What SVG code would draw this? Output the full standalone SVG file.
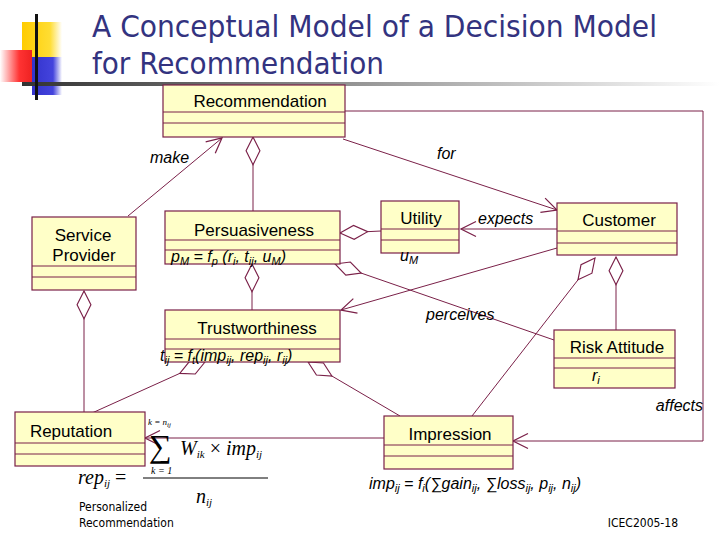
<svg xmlns="http://www.w3.org/2000/svg" width="720" height="540" viewBox="0 0 720 540">
<defs>
<linearGradient id="hl" x1="0" x2="1" y1="0" y2="0"><stop offset="0" stop-color="#333"/><stop offset="0.5" stop-color="#999"/><stop offset="1" stop-color="#fff"/></linearGradient>
<linearGradient id="rd" x1="0" x2="1"><stop offset="0" stop-color="#fff"/><stop offset="0.6" stop-color="#f33"/><stop offset="1" stop-color="#e22"/></linearGradient>
<linearGradient id="bl" x1="0" x2="1"><stop offset="0" stop-color="#33c"/><stop offset="0.7" stop-color="#44d"/><stop offset="1" stop-color="#fff"/></linearGradient>
<linearGradient id="yl" x1="0" x2="1"><stop offset="0" stop-color="#fc0"/><stop offset="0.7" stop-color="#fd3"/><stop offset="1" stop-color="#fff"/></linearGradient>
<marker id="arr" markerUnits="userSpaceOnUse" markerWidth="20" markerHeight="20" refX="0" refY="0" viewBox="-12 -8 14 16" orient="auto" overflow="visible"><path d="M-12,-6 L0,0 L-12,6" fill="none" stroke="#7a2048" stroke-width="1"/></marker>
<marker id="dia" markerUnits="userSpaceOnUse" markerWidth="30" markerHeight="20" refX="0" refY="0" viewBox="0 -8 26 16" orient="auto" overflow="visible"><path d="M0,0 L12,-6 L24,0 L12,6 Z" fill="#fff" stroke="#7a2048" stroke-width="1"/></marker>
<style>
.box{fill:#ffffc8;stroke:#7a2048;stroke-width:1.2}
.cn{fill:none;stroke:#7a2048;stroke-width:1}
.nm{font-family:"Liberation Sans",Arial,sans-serif;font-size:17px;fill:#000;text-anchor:middle}
.it{font-family:"Liberation Sans",Arial,sans-serif;font-size:16px;font-style:italic;fill:#000}
.tm{font-family:"Liberation Serif","Times New Roman",serif;font-style:italic;fill:#000}
.sm{font-family:"DejaVu Sans Condensed","DejaVu Sans",sans-serif;font-size:12px;fill:#000}
.ttl{font-family:"DejaVu Sans Condensed","DejaVu Sans",sans-serif;font-size:30px;fill:#333380}
</style>
</defs>
<rect width="720" height="540" fill="#fff"/>
<g id="decor">
<rect x="22" y="22" width="40" height="38" fill="url(#yl)"/>
<rect x="32" y="57" width="30" height="38" fill="url(#bl)"/>
<rect x="0" y="50" width="32" height="32" fill="url(#rd)"/>
<rect x="22" y="82" width="698" height="4" fill="url(#hl)"/>
<rect x="35" y="14" width="3" height="86" fill="#111"/>
</g>
<g id="title">
<text class="ttl" x="92" y="37" textLength="565" lengthAdjust="spacingAndGlyphs">A Conceptual Model of a Decision Model</text>
<text class="ttl" x="92" y="74" textLength="292" lengthAdjust="spacingAndGlyphs">for Recommendation</text>
</g>
<g id="connectors">
<path class="cn" d="M128,216 L222,138" marker-end="url(#arr)"/>
<path class="cn" d="M253,137 L253,211" marker-start="url(#dia)"/>
<path class="cn" d="M343,139 L557,210" marker-end="url(#arr)"/>
<path class="cn" d="M345,111 L703,111 L703,441 L513,441" marker-end="url(#arr)"/>
<path class="cn" d="M252,264 L252,310" marker-start="url(#dia)"/>
<path class="cn" d="M84,291 L84,412" marker-start="url(#dia)"/>
<path class="cn" d="M340,233 L381,231" marker-start="url(#dia)"/>
<path class="cn" d="M335,264 L554,340" marker-start="url(#dia)"/>
<path class="cn" d="M557,248 L341,310" marker-end="url(#arr)"/>
<path class="cn" d="M557,229 L461,229" marker-end="url(#arr)"/>
<path class="cn" d="M616,257 L616,330" marker-start="url(#dia)"/>
<path class="cn" d="M595,258 L472,416" marker-start="url(#dia)"/>
<path class="cn" d="M205,362 L92,413" marker-start="url(#dia)"/>
<path class="cn" d="M308,362 L400,416" marker-start="url(#dia)"/>
<path class="cn" d="M384,438 L145,438" marker-end="url(#arr)"/>
<text class="it" x="150" y="163">make</text>
<text class="it" x="437" y="159">for</text>
<text class="it" x="478" y="224">expects</text>
<text class="it" x="426" y="320">perceives</text>
<text class="it" x="703" y="411" text-anchor="end">affects</text>
</g>
<g id="recommendation">
<rect class="box" x="163" y="85" width="182" height="52"/>
<path class="cn" d="M163,112 H345 M163,123 H345"/>
<text class="nm" x="260" y="107">Recommendation</text>
</g>
<g id="service-provider">
<rect class="box" x="32" y="217" width="104" height="73"/>
<path class="cn" d="M32,266 H136 M32,277 H136"/>
<text class="nm" x="83" y="241">Service</text>
<text class="nm" x="84" y="261">Provider</text>
</g>
<g id="persuasiveness">
<rect class="box" x="165" y="211" width="175" height="53"/>
<path class="cn" d="M165,240 H340 M165,250 H340"/>
<text class="nm" x="254" y="236">Persuasiveness</text>
<text class="it" x="171" y="262">p<tspan font-size="11" dy="3">M</tspan><tspan dy="-3"> = f</tspan><tspan font-size="11" dy="3">p</tspan><tspan dy="-3"> (r</tspan><tspan font-size="11" dy="3">i</tspan><tspan dy="-3">, t</tspan><tspan font-size="11" dy="3">ij</tspan><tspan dy="-3">, u</tspan><tspan font-size="11" dy="3">M</tspan><tspan dy="-3">)</tspan></text>
</g>
<g id="trustworthiness">
<rect class="box" x="165" y="310" width="175" height="52"/>
<path class="cn" d="M165,339 H340 M165,349 H340"/>
<text class="nm" x="257" y="334">Trustworthiness</text>
<text class="it" x="160" y="361">t<tspan font-size="11" dy="3">ij</tspan><tspan dy="-3"> = f</tspan><tspan font-size="11" dy="3">t</tspan><tspan dy="-3">(imp</tspan><tspan font-size="11" dy="3">ij</tspan><tspan dy="-3">, rep</tspan><tspan font-size="11" dy="3">ij</tspan><tspan dy="-3">, r</tspan><tspan font-size="11" dy="3">ij</tspan><tspan dy="-3">)</tspan></text>
</g>
<g id="utility">
<rect class="box" x="381" y="201" width="78" height="52"/>
<path class="cn" d="M381,229 H459 M381,240 H459"/>
<text class="nm" x="421" y="224">Utility</text>
<text class="it" x="400" y="261">u<tspan font-size="11" dy="3">M</tspan></text>
</g>
<g id="customer">
<rect class="box" x="557" y="203" width="120" height="52"/>
<path class="cn" d="M557,231 H677 M557,243 H677"/>
<text class="nm" x="619" y="226">Customer</text>
</g>
<g id="risk-attitude">
<rect class="box" x="554" y="330" width="121" height="58"/>
<path class="cn" d="M554,358 H675 M554,368 H675"/>
<text class="nm" x="617" y="353">Risk Attitude</text>
<text class="it" x="592" y="381">r<tspan font-size="11" dy="3">i</tspan></text>
</g>
<g id="reputation">
<rect class="box" x="15" y="412" width="130" height="54"/>
<path class="cn" d="M15,443 H145 M15,454 H145"/>
<text class="nm" x="71" y="437">Reputation</text>
</g>
<g id="impression">
<rect class="box" x="384" y="416" width="129" height="53"/>
<path class="cn" d="M384,445 H513 M384,456 H513"/>
<text class="nm" x="450" y="440">Impression</text>
<text class="it" x="369" y="489">imp<tspan font-size="11" dy="3">ij</tspan><tspan dy="-3"> = f</tspan><tspan font-size="11" dy="3">i</tspan><tspan dy="-3">(∑gain</tspan><tspan font-size="11" dy="3">ij</tspan><tspan dy="-3">, ∑loss</tspan><tspan font-size="11" dy="3">ij</tspan><tspan dy="-3">, p</tspan><tspan font-size="11" dy="3">ij</tspan><tspan dy="-3">, n</tspan><tspan font-size="11" dy="3">ij</tspan><tspan dy="-3">)</tspan></text>
</g>
<g id="rep-formula">
<text class="tm" x="148" y="425" font-size="9">k = n<tspan font-size="7" dy="2">ij</tspan></text>
<text x="149" y="457" font-family="Liberation Serif,serif" font-size="32">∑</text>
<text class="tm" x="180" y="455" font-size="20">W<tspan font-size="11" dy="3">ik</tspan><tspan dy="-3" font-style="normal"> × </tspan>imp<tspan font-size="11" dy="3">ij</tspan></text>
<text class="tm" x="151" y="474" font-size="10">k = 1</text>
<text class="tm" x="78" y="484" font-size="20">rep<tspan font-size="11" dy="3">ij</tspan><tspan dy="-3" font-style="normal">  =</tspan></text>
<line x1="143" y1="478" x2="268" y2="478" stroke="#000" stroke-width="1"/>
<text class="tm" x="196" y="503" font-size="20">n<tspan font-size="11" dy="3">ij</tspan></text>
</g>
<g id="footer">
<text class="sm" x="79" y="511">Personalized</text>
<text class="sm" x="79" y="527">Recommendation</text>
<text class="sm" x="678" y="527" text-anchor="end">ICEC2005-18</text>
</g>
</svg>
